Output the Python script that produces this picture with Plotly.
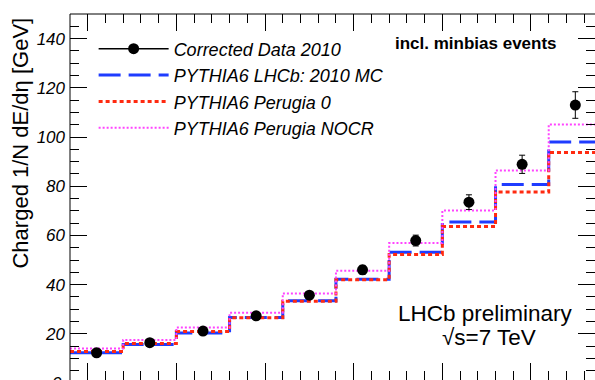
import numpy as np
import plotly.graph_objects as go

# ---- data ----
bin_edges = [1.9, 2.2, 2.5, 2.8, 3.1, 3.4, 3.7, 4.0, 4.3, 4.6, 4.9]
data_vals = [12.3, 16.4, 21.1, 27.3, 35.7, 46.0, 57.9, 73.5, 88.9, 113.0]
data_errs = [0.8, 0.9, 1.0, 1.2, 1.5, 1.8, 2.2, 3.0, 3.7, 5.4]
lhcb_mc = [12.3, 15.7, 20.3, 26.6, 33.4, 42.2, 53.1, 65.4, 80.7, 98.0]
perugia0 = [12.8, 16.1, 20.9, 26.5, 33.2, 42.0, 52.2, 63.6, 77.6, 93.7]
perugia_nocr = [14.0, 17.5, 22.6, 28.6, 36.4, 45.6, 56.9, 70.1, 86.4, 105.1]

names = ["Corrected Data 2010", "PYTHIA6 LHCb: 2010 MC", "PYTHIA6 Perugia 0", "PYTHIA6 Perugia NOCR"]

edges = np.array(bin_edges)
centers = 0.5 * (edges[:-1] + edges[1:])


def step_xy(vals):
    x = list(edges)
    y = list(vals) + [vals[-1]]
    return x, y


fig = go.Figure()

FONT = "Liberation Sans, Arial, sans-serif"

styles = [
    (lhcb_mc, names[1], dict(color="#1f3cff", width=3, dash="22px,8px")),
    (perugia0, names[2], dict(color="#ff2a10", width=3, dash="4px,3px")),
    (perugia_nocr, names[3], dict(color="#ff44ff", width=2, dash="2px,2px")),
]

# legend entry for data (line + marker)
fig.add_trace(go.Scatter(x=[None], y=[None], mode="lines+markers", name=names[0],
                         line=dict(color="black", width=1.5),
                         marker=dict(color="black", size=11)))

for vals, nm, ln in styles:
    xs, ys = step_xy(vals)
    fig.add_trace(go.Scatter(x=xs, y=ys, mode="lines", line_shape="hv", name=nm, line=ln))

fig.add_trace(go.Scatter(x=centers, y=data_vals, mode="markers", name=names[0], showlegend=False,
                         marker=dict(color="black", size=11),
                         error_y=dict(type="data", array=data_errs, color="black", thickness=1, width=3)))

fig.update_layout(
    width=595, height=380,
    margin=dict(l=70, r=0, t=14, b=0),
    paper_bgcolor="white", plot_bgcolor="white",
    font=dict(family=FONT, color="black"),
    showlegend=True,
    legend=dict(x=0.045, y=0.955, xanchor="left", yanchor="top",
                bgcolor="rgba(0,0,0,0)", borderwidth=0,
                font=dict(family=FONT, size=18, style="italic", color="black"),
                itemwidth=70, tracegroupgap=0),
    xaxis=dict(range=[1.9, 4.861], showline=False, mirror="ticks", ticks="inside",
               ticklen=17, tickwidth=1, tickcolor="black", dtick=0.5, tick0=0,
               showticklabels=False, showgrid=False, zeroline=False,
               minor=dict(dtick=0.1, tick0=0, ticks="inside", ticklen=9, tickcolor="black", showgrid=False)),
    yaxis=dict(range=[1.22, 150], showline=False, mirror="ticks", ticks="inside",
               ticklen=17, tickwidth=1, tickcolor="black", dtick=20, tick0=0,
               tickfont=dict(family=FONT, size=17, style="italic", color="black"),
               ticklabelstandoff=4,
               showgrid=False, zeroline=False,
               minor=dict(dtick=5, tick0=0, ticks="inside", ticklen=9, tickcolor="black", showgrid=False)),
    shapes=[
        dict(type="line", xref="paper", yref="paper", x0=0, x1=0, y0=0, y1=1, line=dict(color="black", width=1)),
        dict(type="line", xref="paper", yref="paper", x0=0, x1=1, y0=1, y1=1, line=dict(color="black", width=1)),
    ],
    annotations=[
        dict(text="Charged 1/N dE/dη [GeV]", textangle=-90, xref="paper", yref="paper",
             x=0, xshift=-49, xanchor="center", y=0.6516, yshift=-2, yanchor="middle", showarrow=False,
             font=dict(family=FONT, size=22, color="black")),
        dict(text="<b>incl. minbias events</b>", xref="paper", yref="paper",
             x=(476 - 70) / 525, y=(380 - 44) / 366, xanchor="center", yanchor="middle", showarrow=False,
             font=dict(family=FONT, size=17, color="black")),
        dict(text="LHCb preliminary", xref="paper", yref="paper",
             x=(485.5 - 70) / 525, y=(380 - 313) / 366, xanchor="center", yanchor="middle", showarrow=False,
             font=dict(family=FONT, size=22.5, color="black")),
        dict(text="√s=7 TeV", xref="paper", yref="paper",
             x=(489 - 70) / 525, y=(380 - 337) / 366, xanchor="center", yanchor="middle", showarrow=False,
             font=dict(family=FONT, size=22.5, color="black")),
        dict(text="0", xref="paper", yref="paper", x=0, xshift=-6, xanchor="right",
             y=0, yshift=-3, yanchor="middle", showarrow=False,
             font=dict(family=FONT, size=17, style="italic", color="black")),
    ],
)

fig.write_html("out.html")
